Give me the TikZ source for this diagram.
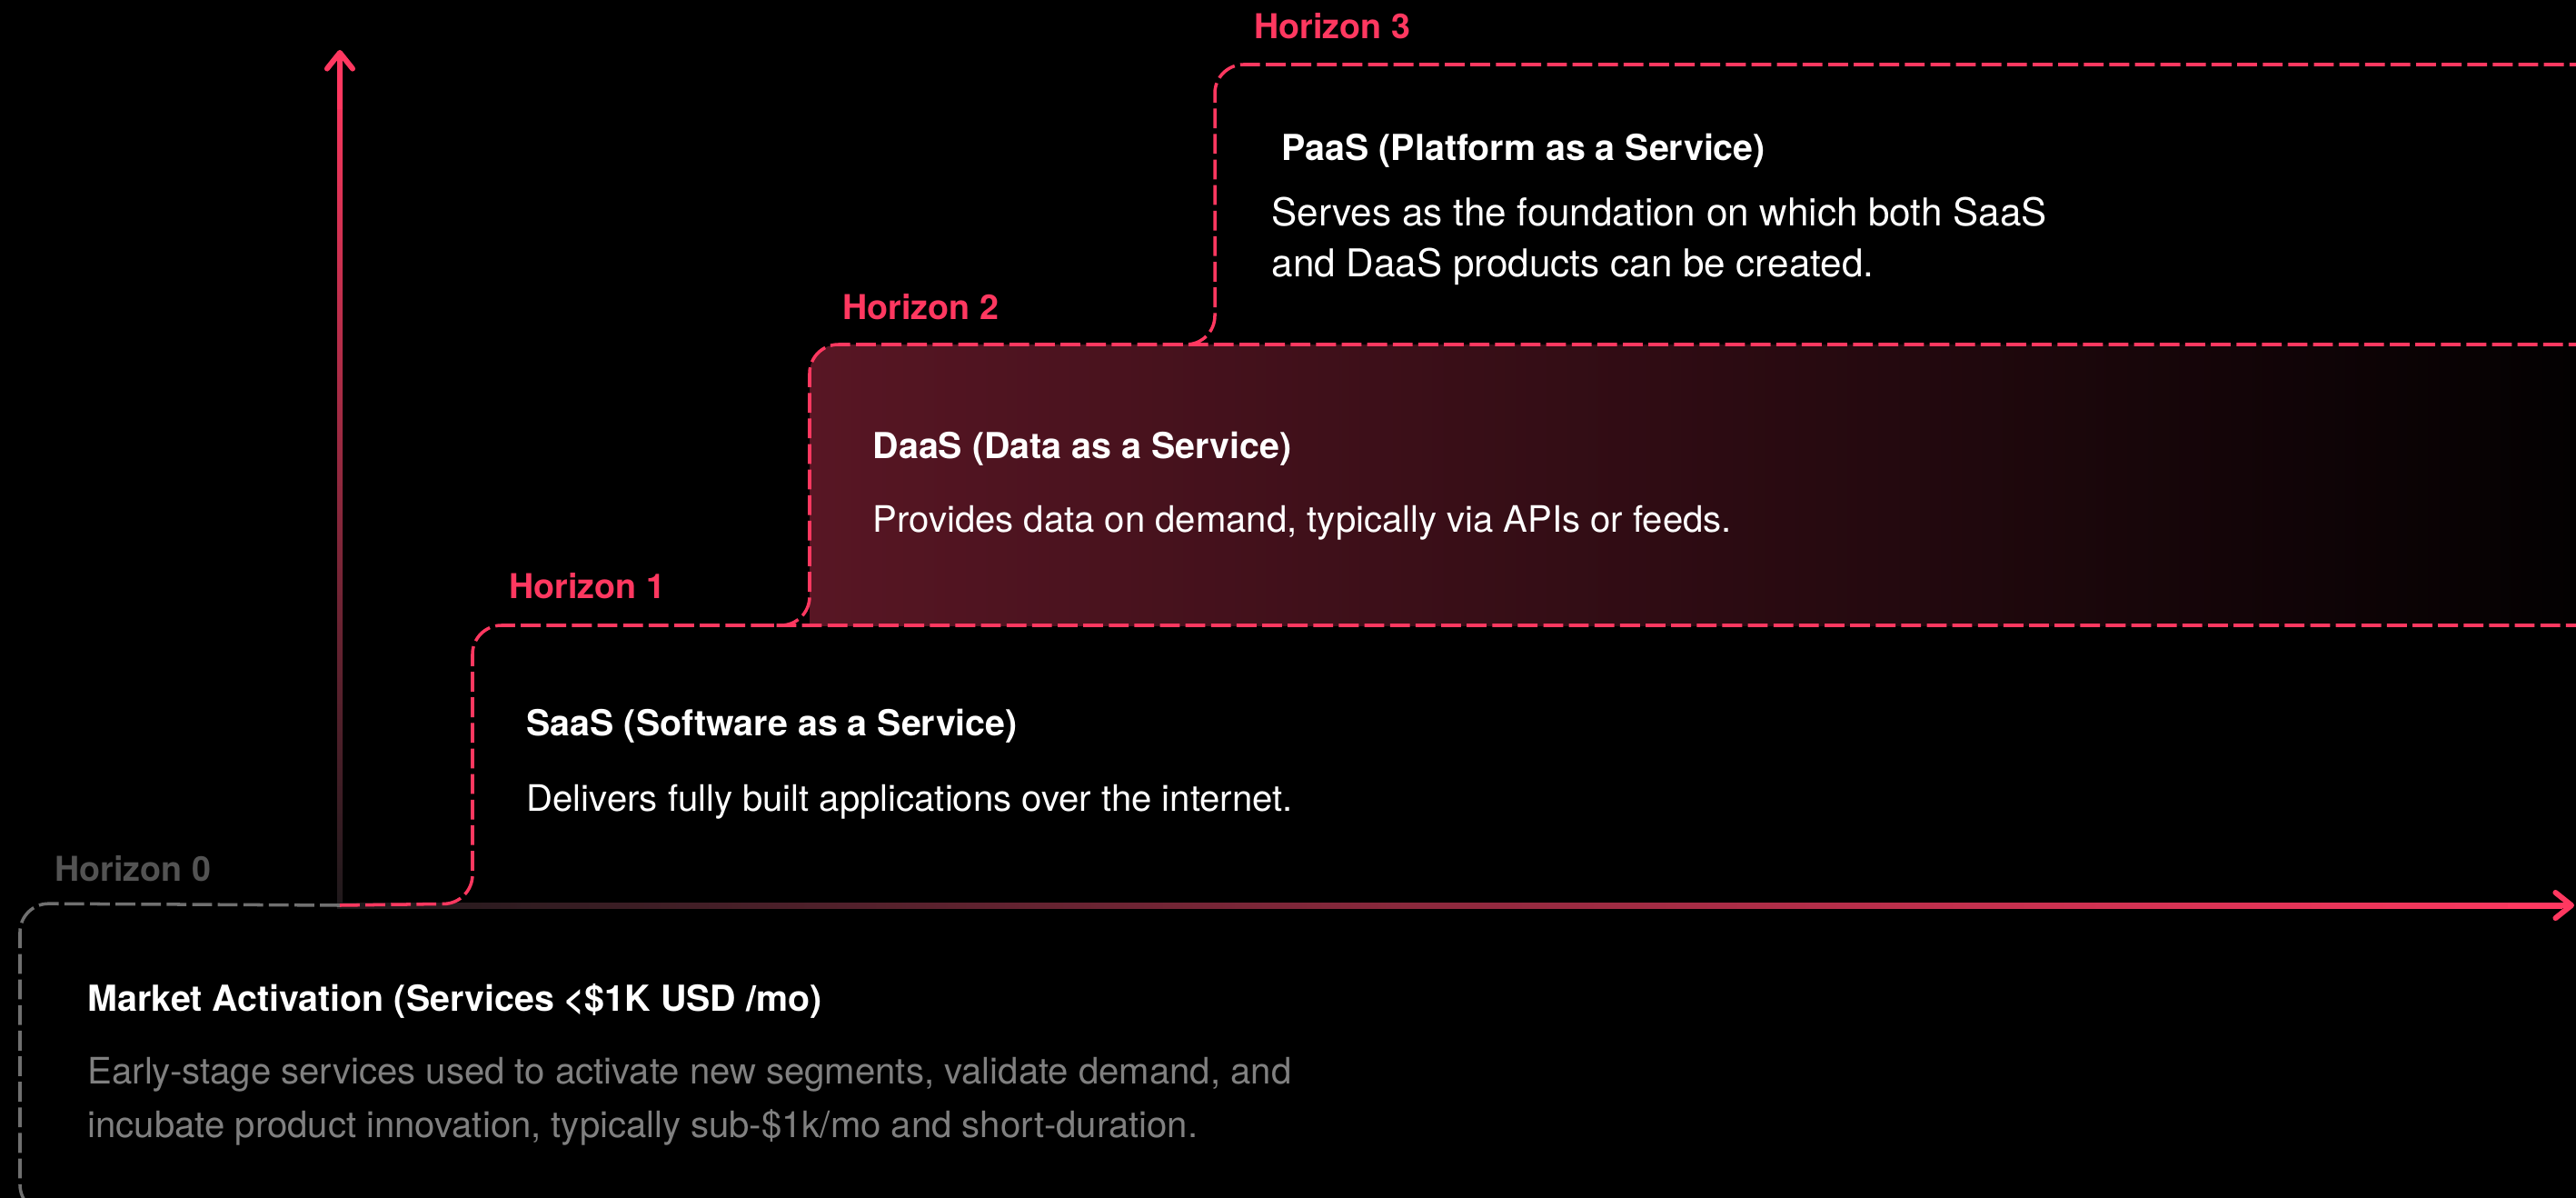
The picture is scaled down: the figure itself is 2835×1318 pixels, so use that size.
\documentclass[tikz,border=0pt]{standalone}
\usepackage{fontspec}
\setmainfont{TeX Gyre Heros}
\usepackage{xcolor}
\definecolor{hzpink}{RGB}{255,56,96}
\definecolor{hzgray}{RGB}{112,112,112}
\definecolor{txtgray}{RGB}{128,128,128}
\definecolor{daasred}{RGB}{88,22,36}
\definecolor{axisdark}{RGB}{30,25,27}
\usetikzlibrary{positioning,arrows.meta}

\begin{document}
\begin{tikzpicture}[
      x=0.01cm,y=-0.01cm,
      edge/.style={line width=1pt,dash pattern=on 6.2pt off 1.8pt,rounded corners=9pt},
      hlbl/.style={font=\bfseries\fontsize{10.7}{12}\selectfont,text=hzpink,anchor=west,inner sep=0pt},
      ttl/.style={font=\bfseries\fontsize{11.2}{13}\selectfont,text=white,anchor=west,inner sep=0pt},
      body/.style={font=\fontsize{11.4}{16.8}\selectfont,text=white,anchor=west,align=left,inner sep=0pt},
      tip/.style={hzpink,line width=1.7pt,-{Straight Barb[round,length=5pt,width=8pt]}}
    ]
    \fill[black] (0,0) rectangle (2835,1318);
    \clip (0,0) rectangle (2835,1318);
    % daas band
    \begin{scope}
      \clip (0,0) rectangle (2835,688);
      \shade[left color=daasred,right color=black,rounded corners=9pt]
      (891,379) rectangle (2900,740);
    \end{scope}
    % axes
    \coordinate (orig) at (374,996);
    \coordinate (ytop) at (374,55);
    \coordinate (xend) at (2833,996);
    \shade[bottom color=axisdark,top color=hzpink] (371,999) rectangle (377,70);
    \shade[left color=axisdark,right color=hzpink] (371,993) rectangle (2820,999);
    \draw[tip] (374,120) -- (ytop);
    \draw[tip] (2760,996) -- (xend);
    % horizon outlines
    \draw[edge,hzgray] (orig) -- (22,994) -- (22,1335) -- (300,1335);
    \draw[edge,hzpink] (orig) -- (520,994) -- (520,688) -- (2900,688);
    \draw[edge,hzpink] (830,688) -- (891,688) -- (891,379) -- (2900,379);
    \draw[edge,hzpink] (1280,379) -- (1337,379) -- (1337,71) -- (2900,71);
    % labels
    \node[hlbl,text=hzgray!120] (hz0) at (60,956) {Horizon 0};
    \node[hlbl] (hz1) at (560,645) {Horizon 1};
    \node[hlbl] (hz2) at (927,338) {Horizon 2};
    \node[hlbl] (hz3) at (1380,29) {Horizon 3};
    \node[ttl] (mkt) at (96,1101) {Market Activation (Services <\$1K USD /mo)};
    \node[body,text=txtgray] (mktb) at (96,1212)
    {Early-stage services used to activate new segments, validate demand, and\\
      incubate product innovation, typically sub-\$1k/mo and short-duration.};
    \node[ttl] (saas) at (579,799) {SaaS (Software as a Service)};
    \node[body] (saasb) at (579,882) {Delivers fully built applications over the internet.};
    \node[ttl] (daas) at (960,494) {DaaS (Data as a Service)};
    \node[body] (daasb) at (960,575) {Provides data on demand, typically via APIs or feeds.};
    \node[ttl] (paas) at (1410,166) {PaaS (Platform as a Service)};
    \node[body,font=\fontsize{12}{15.9}\selectfont] (paasb) at (1399,265)
    {Serves as the foundation on which both SaaS\\
      and DaaS products can be created.};
  \end{tikzpicture}
\end{document}
